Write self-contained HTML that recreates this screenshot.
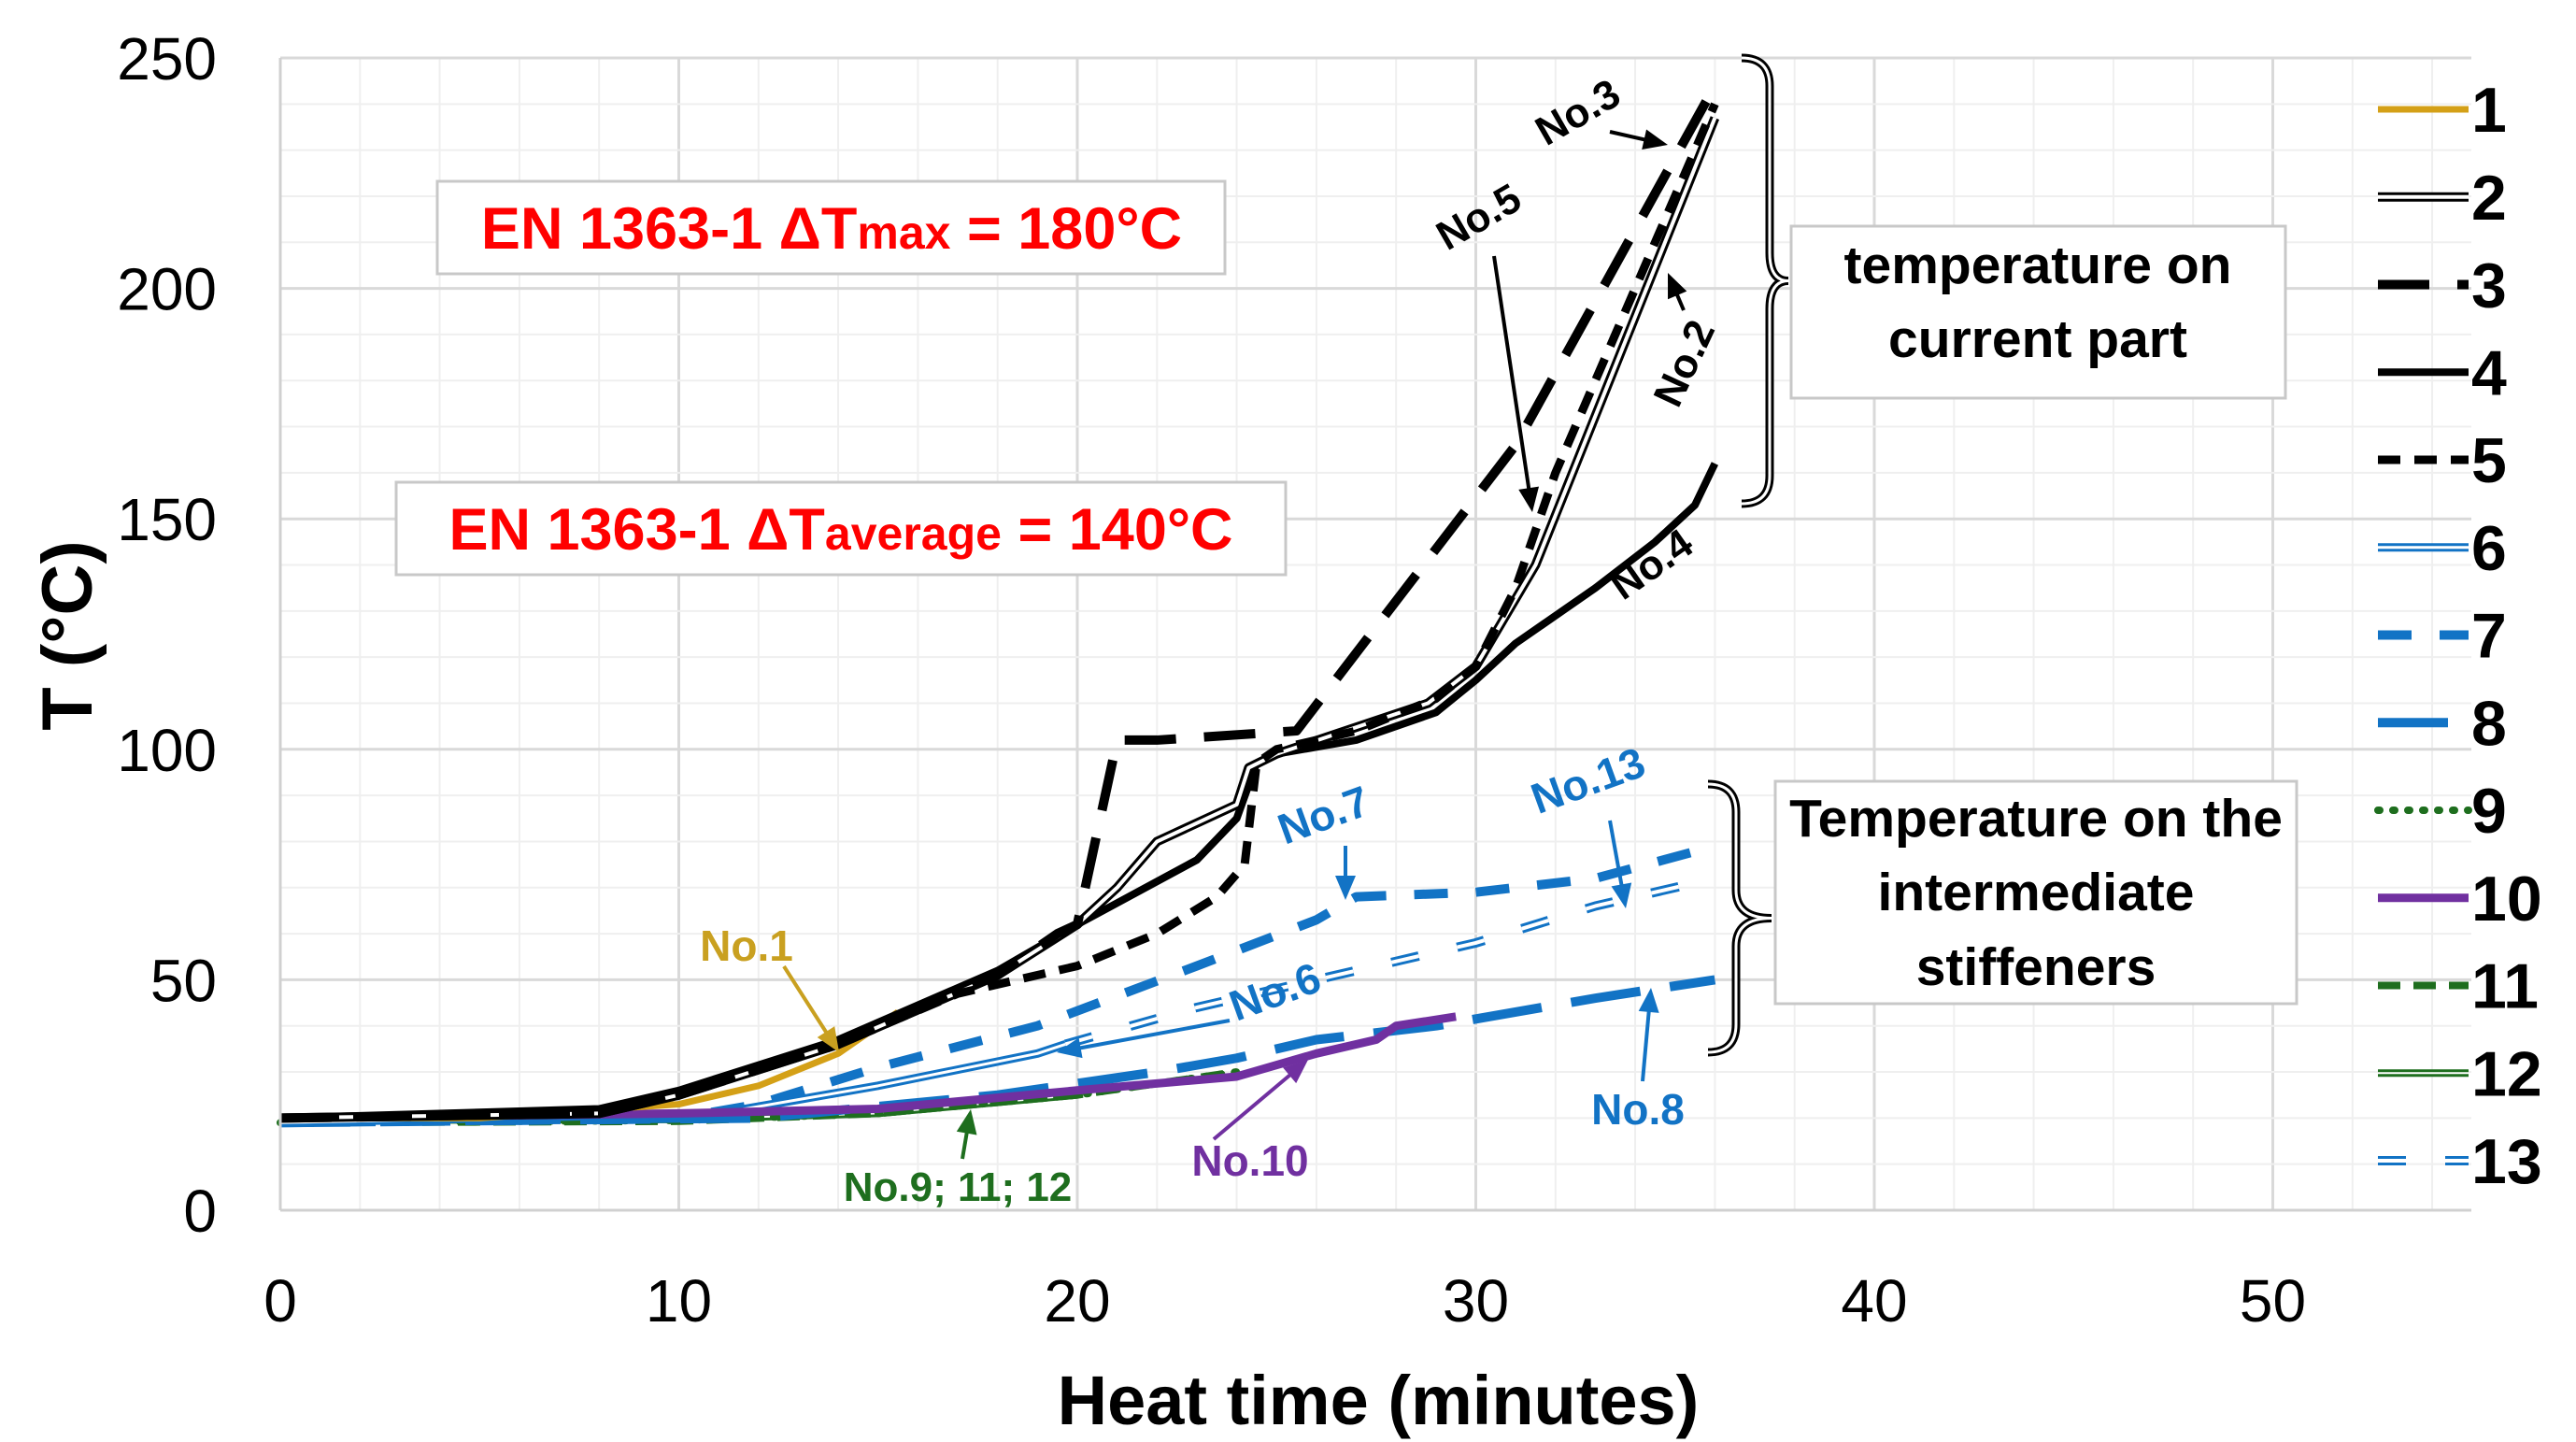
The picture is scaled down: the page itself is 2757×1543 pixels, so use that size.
<!DOCTYPE html>
<html><head><meta charset="utf-8"><style>
html,body{margin:0;padding:0;background:#fff;}
svg{display:block;font-family:"Liberation Sans",sans-serif;}
</style></head><body>
<svg id="chart" width="2757" height="1543" viewBox="0 0 2757 1543" xmlns="http://www.w3.org/2000/svg">
<g id="grid"></g>
<g id="series"></g>
<g id="axes"></g>
<g id="legend"></g>
<g id="notes"></g>
</svg>
<script>
const xTicks=[0,10,20,30,40,50];
const yTicks=[0,50,100,150,200,250];
const legendLabels=["1","2","3","4","5","6","7","8","9","10","11","12","13"];
const s1t=[0,5,10,12,14,15.5], s1v=[20,20,23,27,34,43];
const s2t=[0,8,10,14,18,20,21,22,24,24.3,25,28.8,30,31.5,36], s2v=[20,21,25,36,51,62,70,80,88,96,99,110,118,140,237];
const s3t=[0,8,10,14,18,19.5,20,21,22,25.5,31,36], s3v=[20,21,25,36,51,60,62,102,102,104,166,244];
const s4t=[0,8,10,14,18,20,23,24,24.5,25,27,29,30,31,33,34.5,35.5,36], s4v=[20,22,26,37,52,62,76,85,97,99,102,108,115,123,135,145,153,162];
const s5t=[0,8,10,14,17,20,22,23.5,24.2,24.5,25,27,29,30,31,32,34,36], s5v=[20,21,25,36,47,53,60,68,75,97,100,104,111,118,135,160,200,240];
const s6t=[0,11,13,15,19,19.7], s6v=[19,21,24,27,34,36];
const s7t=[0,10,12,15,19,23,26,27,30,33,36], s7v=[19,20,23,31,40,53,63,68,69,72,79];
const s8t=[0,12,18,22,24,26,29,33,36], s8v=[19,20,25,30,33,37,40,46,50];
const s9t=[0,10,15,20,24], s9v=[19,19.5,21,25,30];
const s10t=[0,10,15,20,24,26,27.5,28,29.5], s10v=[20,21,22,26,29,34,37,40,42];
const s11t=[0,10,15,20,24], s11v=[19,19.3,21,25,30];
const s12t=[0,10,15,20], s12v=[19.5,19.7,21,25];
const s13t=[19.7,23,27,30,33,35,36], s13v=[36,44,52,58,66,70,72];

const NS="http://www.w3.org/2000/svg";
const L=300,R=2645,T=62,B=1295,XMAX=(2645-300)/42.65,YMAX=250;
const xs=t=>L+t/XMAX*(R-L);
const ys=v=>B-v/YMAX*(B-T);
function mk(tag,attrs,parent){const e=document.createElementNS(NS,tag);for(const k in attrs)e.setAttribute(k,attrs[k]);parent.appendChild(e);return e;}
const grid=document.getElementById('grid'),axes=document.getElementById('axes'),ser=document.getElementById('series'),leg=document.getElementById('legend'),notes=document.getElementById('notes');
for(let t=2;t<XMAX;t+=2){const l=mk('line',{x1:xs(t),x2:xs(t),y1:T,y2:B,stroke:t%10==0?'#d9d9d9':'#efefef','stroke-width':t%10==0?3:2},grid);

}
for(let v=10;v<=250;v+=10){const l=mk('line',{x1:L,x2:R,y1:ys(v),y2:ys(v),stroke:v%50==0?'#d9d9d9':'#efefef','stroke-width':v%50==0?3:2},grid);

}
const xa=mk('line',{x1:L,x2:R,y1:B,y2:B,stroke:'#d0d0d0','stroke-width':3},axes);


const ya=mk('line',{x1:L,x2:L,y1:T,y2:B,stroke:'#d0d0d0','stroke-width':3},axes);


xTicks.forEach(t=>{const e=mk('text',{x:xs(t),y:1414,'text-anchor':'middle','font-size':64,fill:'#000'},axes);e.textContent=t;

});
yTicks.forEach(v=>{const e=mk('text',{x:232,y:ys(v)+23,'text-anchor':'end','font-size':64,fill:'#000'},axes);e.textContent=v;

});
let e=mk('text',{x:1475,y:1524,'text-anchor':'middle','font-size':74,'font-weight':'bold'},axes);e.textContent='Heat time (minutes)';


e=mk('text',{x:0,y:0,'text-anchor':'middle','font-size':76,'font-weight':'bold',transform:'translate(98,680) rotate(-90)'},axes);e.textContent='T (°C)';



const BLK='#000',BLU='#1273c5',GRN='#1e6e1e',PUR='#7030a0',GLD='#d4a017';
const styles=[
 {t:s1t,v:s1v,c:GLD,w:7,d:null},
 {t:s2t,v:s2v,c:BLK,w:10,d:null,dbl:true},
 {t:s3t,v:s3v,c:BLK,w:10,d:'55 30'},
 {t:s4t,v:s4v,c:BLK,w:8,d:null},
 {t:s5t,v:s5v,c:BLK,w:9,d:'24 15'},
 {t:s6t,v:s6v,c:BLU,w:9,d:null,dbl:true},
 {t:s7t,v:s7v,c:BLU,w:10,d:'36 30'},
 {t:s8t,v:s8v,c:BLU,w:10,d:'75 32'},
 {t:s9t,v:s9v,c:GRN,w:8,d:'2 14',cap:'round'},
 {t:s10t,v:s10v,c:PUR,w:9,d:null},
 {t:s11t,v:s11v,c:GRN,w:8,d:'24 14'},
 {t:s12t,v:s12v,c:GRN,w:8,d:null,dbl:true},
 {t:s13t,v:s13v,c:BLU,w:10,d:'30 42',dbl:true}];
const order=[12,11,10,8,7,6,5,9,0,3,1,4,2];
order.forEach(i=>{const s=styles[i];
 const pts=s.t.map((t,j)=>xs(t)+','+ys(s.v[j])).join(' ');
 const g=mk('g',{},ser);
 
 
 const a={points:pts,fill:'none',stroke:s.c,'stroke-width':s.w,'stroke-linejoin':'round','stroke-linecap':s.cap||'butt'};
 if(s.d)a['stroke-dasharray']=s.d;
 mk('polyline',a,g);
 if(s.dbl){const b=Object.assign({},a,{stroke:'#fff','stroke-width':s.w-6});mk('polyline',b,g);}
});
legendLabels.forEach((lab,i)=>{const s=styles[i];const y=117+i*93.75;
 const g=mk('g',{},leg);
 
 
 const a={x1:2545,x2:2642,y1:y,y2:y,stroke:s.c,'stroke-width':s.w,'stroke-linecap':s.cap||'butt'};
 if(s.d)a['stroke-dasharray']=s.d;
 mk('line',a,g);
 if(s.dbl)mk('line',Object.assign({},a,{stroke:'#fff','stroke-width':s.w-6}),g);
 const tx=mk('text',{x:2645,y:y+24,'font-size':68,'font-weight':'bold'},g);tx.textContent=lab;});

function box(x,y,w,h,name){const r=mk('rect',{x:x,y:y,width:w,height:h,fill:'#fff',stroke:'#c8c8c8','stroke-width':3},notes);

}
box(468,194,843,99,'limit-max-box');
box(424,516,952,99,'limit-average-box');
box(1917,242,529,184,'current-part-box');
box(1900,836,558,238,'stiffeners-box');
function txt(s,x,y,size,fill,name,rot,anchor){const t=mk('text',{x:x,y:y,'font-size':size,'font-weight':'bold',fill:fill,'text-anchor':anchor||'middle'},notes);
if(rot)t.setAttribute('transform','rotate('+rot+' '+x+' '+y+')');
t.innerHTML=s;

}
txt('EN 1363-1  ΔT<tspan font-size="50">max</tspan> = 180°C',890,266,63,'#f00','limit-max-label');
txt('EN 1363-1  ΔT<tspan font-size="50">average</tspan> = 140°C',900,588,63,'#f00','limit-average-label');
txt('temperature on',2181,303,57,'#000','current-part-label');
txt('current part',2181,382,57,'#000','current-part-label-2');
txt('Temperature on the',2179,895,57,'#000','stiffeners-label');
txt('intermediate',2179,974,57,'#000','stiffeners-label-2');
txt('stiffeners',2179,1054,57,'#000','stiffeners-label-3');
function brace(x,y1,y2,tip,name){const m=(y1+y2)/2;
const d=`M${x},${y1} q30,0 30,30 L${x+30},${m-30} q0,30 ${tip-x-30},30 q${x+30-tip},0 ${x+30-tip},30 L${x+30},${y2-30} q0,30 -30,30`;
const g=mk('g',{},notes);
mk('path',{d:d,fill:'none',stroke:'#000','stroke-width':9},g);mk('path',{d:d,fill:'none',stroke:'#fff','stroke-width':3},g);}
brace(1864,62,539,1914,'brace-current-part');
brace(1828,839,1126,1896,'brace-stiffeners');
function arrow(x1,y1,x2,y2,c,name){const g=mk('g',{},notes);
const a=Math.atan2(y2-y1,x2-x1),h=26;
mk('line',{x1:x1,y1:y1,x2:x2-Math.cos(a)*h*0.8,y2:y2-Math.sin(a)*h*0.8,stroke:c,'stroke-width':4},g);
const p=[[x2,y2],[x2-h*Math.cos(a)+11*Math.sin(a),y2-h*Math.sin(a)-11*Math.cos(a)],[x2-h*Math.cos(a)-11*Math.sin(a),y2-h*Math.sin(a)+11*Math.cos(a)]];
mk('polygon',{points:p.map(q=>q.join(',')).join(' '),fill:c},g);}
txt('No.1',799,1028,46,'#c9a020','label-no1');arrow(839,1034,898,1126,'#c9a020','arrow-no1');
txt('No.9; 11; 12',1025,1285,44,GRN,'label-no9-11-12');arrow(1030,1240,1039,1187,GRN,'arrow-no9');
txt('No.10',1338,1258,46,PUR,'label-no10');arrow(1299,1219,1400,1134,PUR,'arrow-no10');
txt('No.6',1370,1076,46,BLU,'label-no6',-20);arrow(1316,1092,1131,1126,BLU,'arrow-no6');
txt('No.7',1422,887,46,BLU,'label-no7',-20);arrow(1440,905,1440,963,BLU,'arrow-no7');
txt('No.13',1705,850,46,BLU,'label-no13',-20);arrow(1723,878,1740,972,BLU,'arrow-no13');
txt('No.8',1753,1203,46,BLU,'label-no8');arrow(1758,1157,1767,1057,BLU,'arrow-no8');
txt('No.4',1776,616,44,'#000','label-no4',-35);
txt('No.2',1816,395,44,'#000','label-no2',-65);arrow(1802,332,1785,292,'#000','arrow-no2');
txt('No.5',1590,245,44,'#000','label-no5',-30);arrow(1599,274,1640,548,'#000','arrow-no5');
txt('No.3',1696,133,44,'#000','label-no3',-30);arrow(1723,141,1785,155,'#000','arrow-no3');
</script>
</body></html>
